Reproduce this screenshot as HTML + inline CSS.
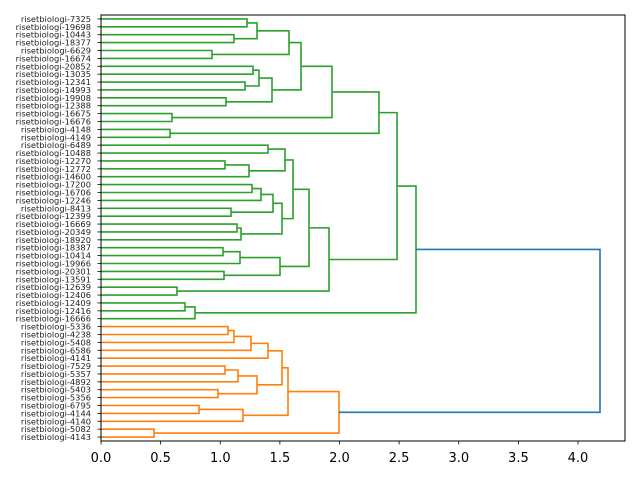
<!DOCTYPE html>
<html><head><meta charset="utf-8"><style>
html,body{margin:0;padding:0;background:#fff;}
svg{display:block;}
.yl{font-family:"DejaVu Sans","Liberation Sans",sans-serif;font-size:8.3px;fill:#222;}
.xl{font-family:"DejaVu Sans","Liberation Sans",sans-serif;font-size:13px;fill:#000;}
</style></head><body>
<svg id="s" width="640" height="480" viewBox="0 0 640 480" xmlns="http://www.w3.org/2000/svg">
<rect width="640" height="480" fill="#fff"/>
<g id="links" fill="none" stroke-width="1.6"></g>
<rect x="101" y="15" width="524" height="426" fill="none" stroke="#000" stroke-width="1"/>
<g text-anchor="end" dominant-baseline="central" class="yl">
<text x="91" y="18.94">risetbiologi-7325</text>
<text x="91" y="26.83">risetbiologi-19698</text>
<text x="91" y="34.72">risetbiologi-10443</text>
<text x="91" y="42.61">risetbiologi-18377</text>
<text x="91" y="50.50">risetbiologi-6629</text>
<text x="91" y="58.39">risetbiologi-16674</text>
<text x="91" y="66.28">risetbiologi-20852</text>
<text x="91" y="74.17">risetbiologi-13035</text>
<text x="91" y="82.06">risetbiologi-12341</text>
<text x="91" y="89.94">risetbiologi-14993</text>
<text x="91" y="97.83">risetbiologi-19908</text>
<text x="91" y="105.72">risetbiologi-12388</text>
<text x="91" y="113.61">risetbiologi-16675</text>
<text x="91" y="121.50">risetbiologi-16676</text>
<text x="91" y="129.39">risetbiologi-4148</text>
<text x="91" y="137.28">risetbiologi-4149</text>
<text x="91" y="145.17">risetbiologi-6489</text>
<text x="91" y="153.06">risetbiologi-10488</text>
<text x="91" y="160.94">risetbiologi-12270</text>
<text x="91" y="168.83">risetbiologi-12772</text>
<text x="91" y="176.72">risetbiologi-14600</text>
<text x="91" y="184.61">risetbiologi-17200</text>
<text x="91" y="192.50">risetbiologi-16706</text>
<text x="91" y="200.39">risetbiologi-12246</text>
<text x="91" y="208.28">risetbiologi-8413</text>
<text x="91" y="216.17">risetbiologi-12399</text>
<text x="91" y="224.06">risetbiologi-16669</text>
<text x="91" y="231.94">risetbiologi-20349</text>
<text x="91" y="239.83">risetbiologi-18920</text>
<text x="91" y="247.72">risetbiologi-18387</text>
<text x="91" y="255.61">risetbiologi-10414</text>
<text x="91" y="263.50">risetbiologi-19966</text>
<text x="91" y="271.39">risetbiologi-20301</text>
<text x="91" y="279.28">risetbiologi-13591</text>
<text x="91" y="287.17">risetbiologi-12639</text>
<text x="91" y="295.06">risetbiologi-12406</text>
<text x="91" y="302.94">risetbiologi-12409</text>
<text x="91" y="310.83">risetbiologi-12416</text>
<text x="91" y="318.72">risetbiologi-16666</text>
<text x="91" y="326.61">risetbiologi-5336</text>
<text x="91" y="334.50">risetbiologi-4238</text>
<text x="91" y="342.39">risetbiologi-5408</text>
<text x="91" y="350.28">risetbiologi-6586</text>
<text x="91" y="358.17">risetbiologi-4141</text>
<text x="91" y="366.06">risetbiologi-7529</text>
<text x="91" y="373.94">risetbiologi-5357</text>
<text x="91" y="381.83">risetbiologi-4892</text>
<text x="91" y="389.72">risetbiologi-5403</text>
<text x="91" y="397.61">risetbiologi-5356</text>
<text x="91" y="405.50">risetbiologi-6795</text>
<text x="91" y="413.39">risetbiologi-4144</text>
<text x="91" y="421.28">risetbiologi-4140</text>
<text x="91" y="429.17">risetbiologi-5082</text>
<text x="91" y="437.06">risetbiologi-4143</text>
</g>
<g text-anchor="middle" class="xl">
<text x="101" y="462">0.0</text>
<text x="160.6" y="462">0.5</text>
<text x="220.3" y="462">1.0</text>
<text x="279.9" y="462">1.5</text>
<text x="339.5" y="462">2.0</text>
<text x="399.1" y="462">2.5</text>
<text x="458.8" y="462">3.0</text>
<text x="518.4" y="462">3.5</text>
<text x="578" y="462">4.0</text>
</g>
<g id="ticks" stroke="#000" stroke-width="0.8"></g>
</svg>
<script>
var ns="http://www.w3.org/2000/svg";
var G=document.getElementById("links"),T=document.getElementById("ticks");
function Y(i){return 15+(i+0.5)*426/54;}
function L(i){return {x:101,y:Y(i)};}
var GR="#2ca02c",OR="#ff7f0e",BL="#1f77b4";
function k(a,b,x,c){
  if(typeof a==="number")a=L(a); if(typeof b==="number")b=L(b);
  var p=document.createElementNS(ns,"path");
  p.setAttribute("d","M"+a.x+" "+a.y+"H"+x+"V"+b.y+"H"+b.x);
  p.setAttribute("stroke",c);G.appendChild(p);
  return {x:x,y:(a.y+b.y)/2};
}
var g=GR;
var A=k(0,1,247,g),B=k(2,3,234,g),C=k(A,B,257,g),D=k(4,5,212,g),E=k(C,D,289,g);
var F=k(6,7,253,g),F2=k(8,9,245,g),Gg=k(F,F2,259,g),H2=k(10,11,226,g),H=k(Gg,H2,272,g);
var I=k(E,H,301,g),J2=k(12,13,172,g),J=k(I,J2,332,g),K2=k(14,15,170,g),K=k(J,K2,379,g);
var M=k(16,17,268,g),N1=k(18,19,225,g),N=k(N1,20,249,g),O=k(M,N,285,g);
var P1=k(21,22,252,g),P=k(P1,23,261,g),Q2=k(24,25,231,g),Q=k(P,Q2,273,g);
var R1=k(26,27,237,g),R=k(R1,28,241,g),S=k(Q,R,282,g),Tt=k(O,S,293,g);
var U1=k(29,30,223,g),U=k(U1,31,240,g),V=k(32,33,224,g),W=k(U,V,280,g);
var X=k(Tt,W,309,g),Y2=k(34,35,177,g),Yy=k(X,Y2,329,g);
var Z1=k(36,37,185,g),Z=k(Z1,38,195,g);
var Ln=k(K,Yy,397,g),GRt=k(Ln,Z,416,g);
var o=OR;
var a1=k(39,40,228,o),a2=k(a1,41,234,o),a3=k(a2,42,251,o),AA=k(a3,43,268,o);
var b1=k(44,45,225,o),BB=k(b1,46,238,o),c2=k(47,48,218,o),CC=k(BB,c2,257,o);
var DD=k(AA,CC,282,o),e1=k(49,50,199,o),EE=k(e1,51,243,o),FF=k(DD,EE,288,o);
var f2=k(52,53,154,o),GGn=k(FF,f2,339,o);
k(GRt,GGn,600,BL);
for(var i=0;i<54;i++){var l=document.createElementNS(ns,"line");l.setAttribute("x1",97.5);l.setAttribute("x2",101);l.setAttribute("y1",Y(i));l.setAttribute("y2",Y(i));T.appendChild(l);}
for(var j=0;j<9;j++){var x=101+j*59.625;var l2=document.createElementNS(ns,"line");l2.setAttribute("x1",x);l2.setAttribute("x2",x);l2.setAttribute("y1",441);l2.setAttribute("y2",444.5);T.appendChild(l2);}
</script>
</body></html>
